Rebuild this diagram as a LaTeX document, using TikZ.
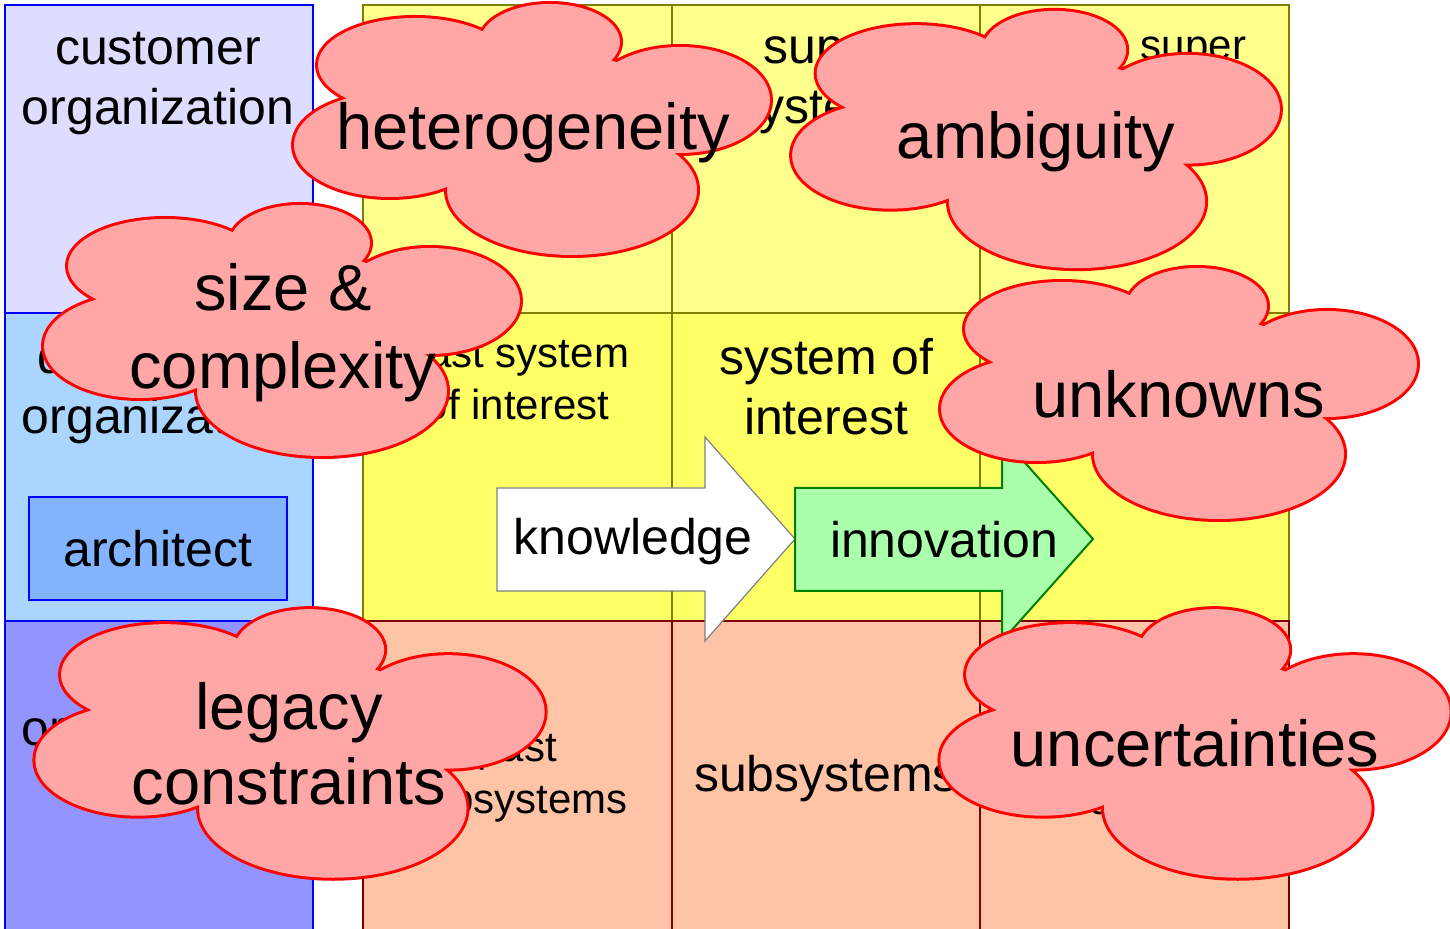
\documentclass[tikz,border=0pt]{standalone}
\usepackage{fontspec}
\setmainfont{Liberation Sans}
\definecolor{custfill}{HTML}{DDDDFF}
\definecolor{devfill}{HTML}{AAD5FF}
\definecolor{suppfill}{HTML}{9494FF}
\definecolor{archfill}{HTML}{82B4FF}
\definecolor{superfill}{HTML}{FFFF8C}
\definecolor{soifill}{HTML}{FFFF66}
\definecolor{subfill}{HTML}{FFC4A6}
\definecolor{gridline}{HTML}{808000}
\definecolor{subline}{HTML}{800000}
\definecolor{cloudpink}{HTML}{FFA6A6}
\definecolor{innofill}{HTML}{AAFFAA}
\definecolor{innoline}{HTML}{008000}
% lobes of one cloud, around its middle
\newcommand{\cloudlobes}{(-117,-65) ellipse [x radius=97, y radius=47]
    (18,-88) ellipse [x radius=70, y radius=38]
    (148,-30) ellipse [x radius=90, y radius=53]
    (40,60) ellipse [x radius=125, y radius=65]
    (-142,15) ellipse [x radius=96, y radius=52]}

\begin{document}
\begin{tikzpicture}[x=0.5pt, y=-0.5pt,
        orgbox/.style={draw=blue, line width=1pt},
        cellup/.style={draw=gridline, line width=1pt, fill=superfill},
        cellmid/.style={draw=gridline, line width=1pt, fill=soifill},
        celldown/.style={draw=subline, line width=1pt, fill=subfill},
        big/.style={font=\fontsize{25}{30}\selectfont, align=center},
        small/.style={font=\fontsize{21}{26}\selectfont, align=center},
        cloudedge/.style={draw=red, line width=3pt},
        cloudtext/.style={font=\fontsize{32.5}{39}\selectfont, align=center}]
    \clip (0,0) rectangle (1450,929);
    \fill[white] (0,0) rectangle (1450,929);
    % organizations
    \draw[orgbox, fill=custfill] (5,5) rectangle (313,313);
    \draw[orgbox, fill=devfill] (5,313) rectangle (313,621);
    \draw[orgbox, fill=suppfill] (5,621) rectangle (313,935);
    \node[big] (cust) at (158,84) {customer\\organization};
    \node[big] (dev) at (158,391) {developing\\organization};
    \node[big] (supp) at (158,703) {supplier\\organization};
    \node[big, draw=blue, line width=1pt, fill=archfill, minimum width=129pt, minimum height=51.5pt] (arch) at (158,549) {architect};
    % systems
    \foreach \xa/\xb in {363/672, 672/980, 980/1289} {
        \draw[cellup] (\xa,5) rectangle (\xb,313);
        \draw[cellmid] (\xa,313) rectangle (\xb,621);
        \draw[celldown] (\xa,621) rectangle (\xb,935);
    }
    \node[big] (supersys) at (826,85) {super\\systems};
    \node[small] (futsuper) at (1134,75) {future super\\systems};
    \node[small] (pastsoi) at (517,380) {past system\\of interest};
    \node[big] (soi) at (826,387) {system of\\interest};
    \node[small] (pastsub) at (517,778) {past\\subsystems};
    \node[big] (sub) at (826,779) {subsystems};
    \node[small] (futsub) at (1134,778) {future\\subsystems};
    % arrows
    \draw[draw=gray, line width=0.6pt, fill=white] (497,488) -- (705,488) -- (705,437) -- (795,539) -- (705,641) -- (705,591) -- (497,591) -- cycle;
    \node[big] (know) at (633,542) {knowledge};
    \draw[draw=innoline, line width=1pt, fill=innofill] (795,488) -- (1002,488) -- (1002,437) -- (1093,539) -- (1002,641) -- (1002,591) -- (795,591) -- cycle;
    \node[big] (inno) at (944,540) {innovation};
    % clouds
    \begin{scope}[shift={(532,130)}]
        \draw[cloudedge] \cloudlobes;
        \fill[cloudpink] \cloudlobes (0,-10) ellipse [x radius=150, y radius=70];
    \end{scope}
    \node[cloudtext] (hetero) at (533,133) {heterogeneity};
    \begin{scope}[shift={(1036,140)}, scale=1.025]
        \draw[cloudedge] \cloudlobes;
        \fill[cloudpink] \cloudlobes (0,-10) ellipse [x radius=150, y radius=70];
    \end{scope}
    \node[cloudtext] (ambig) at (1036,142) {ambiguity};
    \begin{scope}[shift={(282,331)}]
        \draw[cloudedge] \cloudlobes;
        \fill[cloudpink] \cloudlobes (0,-10) ellipse [x radius=150, y radius=70];
    \end{scope}
    \node[cloudtext] (size) at (283,333) {size \&\\complexity};
    \begin{scope}[shift={(1179,394)}]
        \draw[cloudedge] \cloudlobes;
        \fill[cloudpink] \cloudlobes (0,-10) ellipse [x radius=150, y radius=70];
    \end{scope}
    \node[cloudtext] (unknown) at (1179,394) {unknowns};
    \begin{scope}[shift={(290,744)}, scale=1.07]
        \draw[cloudedge] \cloudlobes;
        \fill[cloudpink] \cloudlobes (0,-10) ellipse [x radius=150, y radius=70];
    \end{scope}
    \node[cloudtext, font=\fontsize{32.5}{37.5}\selectfont] (legacy) at (289,744) {legacy\\constraints};
    \begin{scope}[shift={(1195,744)}, scale=1.07]
        \draw[cloudedge] \cloudlobes;
        \fill[cloudpink] \cloudlobes (0,-10) ellipse [x radius=150, y radius=70];
    \end{scope}
    \node[cloudtext] (uncert) at (1195,743) {uncertainties};
\end{tikzpicture}
\end{document}
